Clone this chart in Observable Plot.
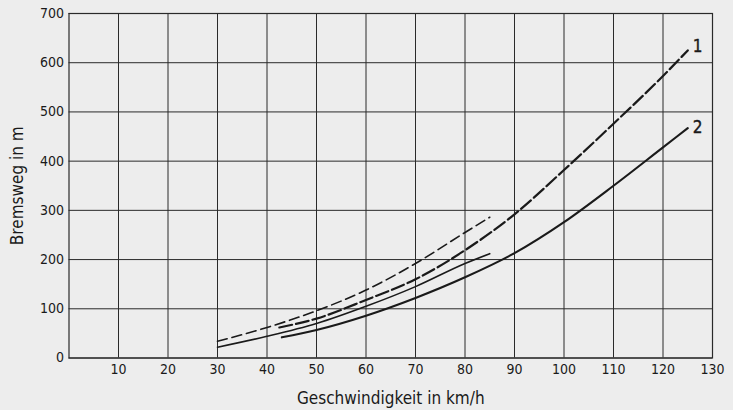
<!DOCTYPE html>
<html><head><meta charset="utf-8">
<script src="https://cdn.jsdelivr.net/npm/d3@7"></script>
<script src="https://cdn.jsdelivr.net/npm/@observablehq/plot@0.6"></script>
<style>
html,body{margin:0;padding:0;background:#ededed;}
#chart svg{display:block;}
</style>
</head><body><div id="chart"></div>
<script>
// Curve 1 (long, dashed)
const curve1Speed = [42.5, 50, 60, 70, 80, 90, 100, 110, 120, 125];
const curve1Dist  = [62, 80, 118, 160, 219, 292, 382, 476, 573, 625];
// Curve 2 (long, solid)
const curve2Speed = [43, 50, 60, 70, 80, 90, 100, 110, 120, 125];
const curve2Dist  = [42, 57, 86, 122, 164, 213, 276, 350, 428, 467];
// Short dashed curve (30–85 km/h)
const shortDashedSpeed = [30, 40, 50, 60, 70, 80, 85];
const shortDashedDist  = [34, 62, 96, 138, 192, 255, 286];
// Short solid curve (30–85 km/h)
const shortSolidSpeed = [30, 40, 50, 60, 70, 80, 85];
const shortSolidDist  = [22, 44, 70, 105, 145, 192, 212];
// Ticks
const xTicks = [10, 20, 30, 40, 50, 60, 70, 80, 90, 100, 110, 120, 130];
const yTicks = [0, 100, 200, 300, 400, 500, 600, 700];
// Curve labels
const labelText  = ["1", "2"];
const labelSpeed = [126.0, 126.0];
const labelDist  = [632, 468];

const toRows = (xs, ys) => xs.map((x, i) => ({x, y: ys[i]}));
const c1 = toRows(curve1Speed, curve1Dist);
const c2 = toRows(curve2Speed, curve2Dist);
const c3 = toRows(shortDashedSpeed, shortDashedDist);
const c4 = toRows(shortSolidSpeed, shortSolidDist);
const labels = labelText.map((t, i) => ({t, x: labelSpeed[i], y: labelDist[i]}));

const font = "'DejaVu Sans Condensed', 'DejaVu Sans', sans-serif";
const ink = "#1a1a1a";

const chart = Plot.plot({
  width: 733,
  height: 410,
  marginLeft: 68.5,
  marginRight: 21,
  marginTop: 13,
  marginBottom: 52.5,
  style: {fontFamily: font, fontSize: "14px", background: "#ededed", color: ink},
  x: {domain: [0, 130]},
  y: {domain: [0, 700]},
  marks: [
    Plot.ruleX(xTicks, {stroke: "#2a2a2a", strokeWidth: 1}),
    Plot.ruleY(yTicks, {stroke: "#2a2a2a", strokeWidth: 1}),
    Plot.frame({stroke: "#2a2a2a", strokeWidth: 1.2}),
    Plot.axisX(xTicks, {tickSize: 0, tickPadding: 6, fontSize: 14, fill: ink, stroke: ink, strokeWidth: 0.35,
      label: null}),
    Plot.axisY(yTicks, {tickSize: 0, tickPadding: 5, fontSize: 14, fill: ink, stroke: ink, strokeWidth: 0.35,
      label: null}),
    Plot.axisX({ticks: [], tickSize: 0, fontSize: 17, fill: ink, stroke: ink, strokeWidth: 0.3, dx: 6,
      label: "Geschwindigkeit in km/h", labelAnchor: "center", labelArrow: "none", labelOffset: 46}),
    Plot.axisY({ticks: [], tickSize: 0, fontSize: 17, fill: ink, stroke: ink, strokeWidth: 0.3, dy: -4,
      label: "Bremsweg in m", labelAnchor: "center", labelArrow: "none", labelOffset: 58}),
    Plot.line(c3, {x: "x", y: "y", stroke: ink, strokeWidth: 1.6, strokeDasharray: "10,5", curve: "monotone-x"}),
    Plot.line(c4, {x: "x", y: "y", stroke: ink, strokeWidth: 1.6, curve: "monotone-x"}),
    Plot.line(c1, {x: "x", y: "y", stroke: ink, strokeWidth: 2.2, strokeDasharray: "13,4", curve: "monotone-x"}),
    Plot.line(c2, {x: "x", y: "y", stroke: ink, strokeWidth: 2.1, curve: "monotone-x"}),
    Plot.text(labels, {x: "x", y: "y", text: "t", fontSize: 17, fill: ink, stroke: ink, strokeWidth: 0.35, textAnchor: "start"})
  ]
});
document.getElementById("chart").appendChild(chart);
</script>
</body></html>
